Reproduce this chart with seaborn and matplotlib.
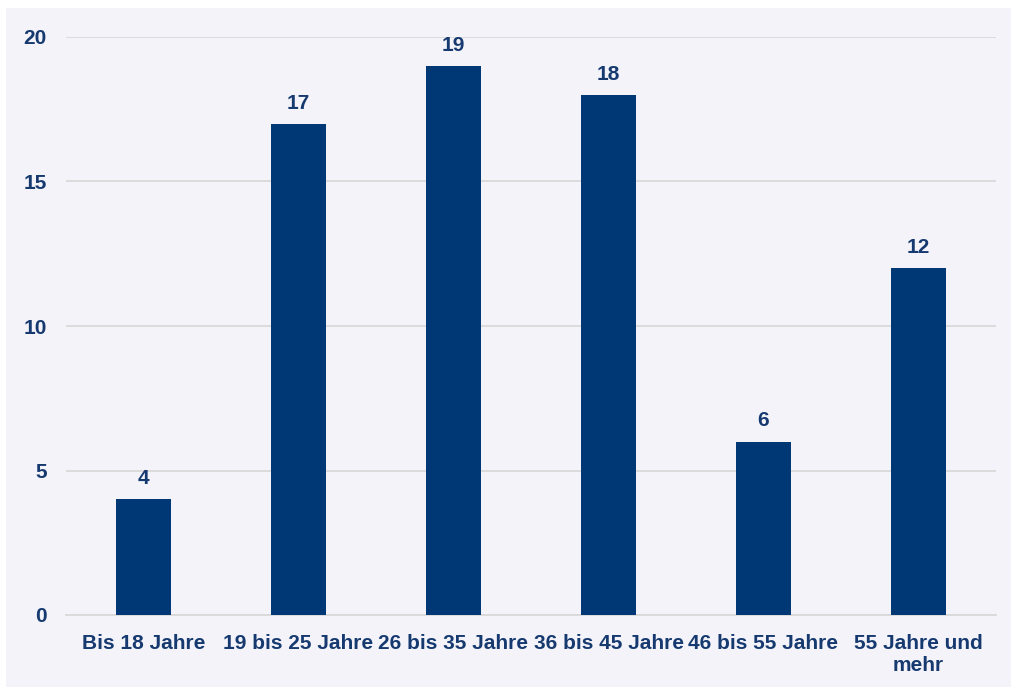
import matplotlib
matplotlib.use("Agg")
import matplotlib.pyplot as plt
import seaborn as sns
import pandas as pd
from matplotlib.patches import Rectangle

categories = ["Bis 18 Jahre", "19 bis 25 Jahre", "26 bis 35 Jahre", "36 bis 45 Jahre",
              "46 bis 55 Jahre", "55 Jahre und\nmehr"]
values = [4, 17, 19, 18, 6, 12]
yticks = [0, 5, 10, 15, 20]

BAR = "#003876"
TEXT = "#163a70"
PANEL = "#f3f3f9"
GRID = "#d9d9d9"

sns.set_theme(style="white")
plt.rcParams["font.family"] = ["Liberation Sans", "DejaVu Sans"]
plt.rcParams["font.weight"] = "bold"

df = pd.DataFrame({"cat": categories, "val": values})

fig = plt.figure(figsize=(10.11, 6.87), dpi=100)
fig.patch.set_facecolor("white")
fig.patches.append(Rectangle((6 / 1011, 0), 1 - 6 / 1011, 1 - 8 / 687,
                             transform=fig.transFigure, facecolor=PANEL,
                             edgecolor="none", zorder=-10))

ax = fig.add_axes([66 / 1011, 1 - 615 / 687, (996 - 66) / 1011, (615 - 37) / 687])
ax.set_facecolor("none")
sns.barplot(data=df, x="cat", y="val", color=BAR, width=0.355, saturation=1,
            linewidth=0, edgecolor="none", ax=ax, zorder=3)

ax.set_ylim(0, 20)
ax.set_xlim(-0.5, len(categories) - 0.5)
ax.set_yticks(yticks)
ax.set_yticklabels([str(t) for t in yticks])
ax.yaxis.grid(True, color=GRID, linewidth=1.3, zorder=0)
ax.set_axisbelow(True)
for s in ["top", "right", "left"]:
    ax.spines[s].set_visible(False)
ax.spines["bottom"].set_color(GRID)
ax.spines["bottom"].set_linewidth(1.3)
ax.set_xlabel("")
ax.set_ylabel("")
ax.tick_params(axis="both", length=0, colors=TEXT, labelsize=15)
ax.tick_params(axis="y", pad=14)
ax.tick_params(axis="x", pad=14)
for lbl in ax.get_xticklabels() + ax.get_yticklabels():
    lbl.set_fontweight("bold")
    lbl.set_color(TEXT)
for lbl in ax.get_xticklabels():
    lbl.set_linespacing(1.2)

for container in ax.containers:
    ax.bar_label(container, labels=[str(v) for v in values], padding=8,
                 fontsize=15, fontweight="bold", color=TEXT)

fig.savefig("out.png", dpi=100, facecolor=fig.get_facecolor())
